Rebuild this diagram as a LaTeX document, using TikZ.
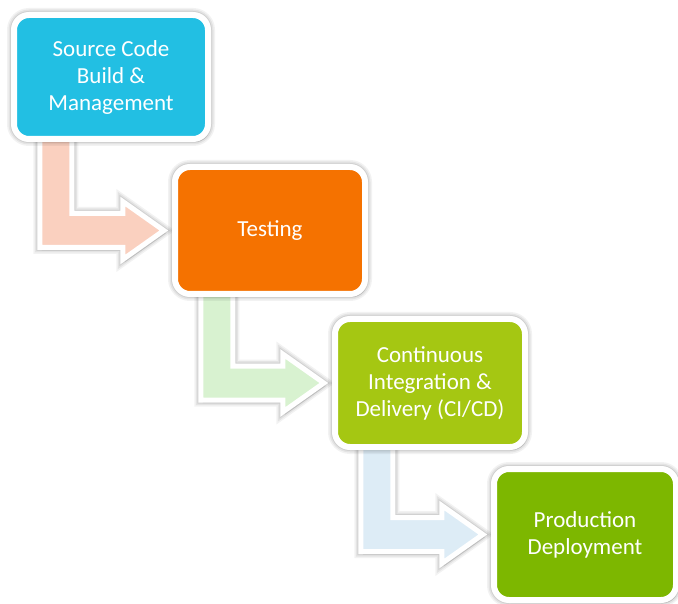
\documentclass[tikz,border=0pt]{standalone}
\usepackage{fontspec}
\setmainfont{Carlito}
\usetikzlibrary{calc,shadows}

\definecolor{srcblue}{HTML}{22BFE3}
\definecolor{testorange}{HTML}{F57200}
\definecolor{cilime}{HTML}{A5C712}
\definecolor{prodgreen}{HTML}{7DB700}
\definecolor{arrowsalmon}{HTML}{FAD0BF}
\definecolor{arrowmint}{HTML}{D8F2D0}
\definecolor{arrowsky}{HTML}{DDECF6}

\tikzset{
  % soft grey glow behind a white rim
  halo/.style={
    preaction={draw=black, draw opacity=0.05, line width=#1+8pt},
    preaction={draw=black, draw opacity=0.06, line width=#1+5pt},
    preaction={draw=black, draw opacity=0.08, line width=#1+2pt}
  },
  stagebox/.style={
    drop shadow={shadow xshift=2pt, shadow yshift=-3pt, opacity=0.22, fill=black!60},
    halo=6pt,
    draw=white, line width=6pt, rounded corners=15pt,
    text=white, align=center, inner sep=0pt,
    font=\fontsize{23}{27}\selectfont
  },
  arrowbody/.style={
    drop shadow={shadow xshift=2pt, shadow yshift=-3pt, opacity=0.15, fill=black!60},
    halo=5pt,
    draw=white, line width=5pt, line join=miter
  }
}

% L-shaped block arrow leaving the bottom of #1 and pointing at the west side of #2
\newcommand\stagearrow[3]{%
  \path[arrowbody, fill=#3]
    let \p1=(#1.west), \p2=(#2.west), \p3=(#1.south) in
    (\x1+26pt, \y3+8pt) -- (\x1+58pt, \y3+8pt) -- (\x1+58pt, \y2+17pt)
    -- (\x2-52pt, \y2+17pt) -- (\x2-52pt, \y2+29pt) -- (\x2-11pt, \y2)
    -- (\x2-52pt, \y2-29pt) -- (\x2-52pt, \y2-17pt) -- (\x1+26pt, \y2-17pt)
    -- cycle;}

\begin{document}
\begin{tikzpicture}[x=1pt,y=1pt]
  \fill[white] (0,0) rectangle (678,-604);
  \useasboundingbox (0,0) rectangle (678,-604);

  % stage centres
  \coordinate (c1) at (111,-77);
  \coordinate (c2) at (270,-230.5);
  \coordinate (c3) at (430,-383);
  \coordinate (c4) at (585,-534.5);

  % placeholders of the stage size, so the arrows can be laid under the boxes
  \path (c1) node[minimum width=194pt, minimum height=124pt, inner sep=0pt] (p1) {};
  \path (c2) node[minimum width=190pt, minimum height=127pt, inner sep=0pt] (p2) {};
  \path (c3) node[minimum width=190pt, minimum height=128pt, inner sep=0pt] (p3) {};
  \path (c4) node[minimum width=182pt, minimum height=131pt, inner sep=0pt] (p4) {};

  \stagearrow{p1}{p2}{arrowsalmon}
  \stagearrow{p2}{p3}{arrowmint}
  \stagearrow{p3}{p4}{arrowsky}

  \node[stagebox, fill=srcblue, minimum width=194pt, minimum height=124pt] (b1) at (c1)
    {Source Code\\Build \&\\Management};
  \node[stagebox, fill=testorange, minimum width=190pt, minimum height=127pt] (b2) at (c2)
    {Testing};
  \node[stagebox, fill=cilime, minimum width=190pt, minimum height=128pt] (b3) at (c3)
    {Continuous\\Integration \&\\Delivery (CI/CD)};
  \node[stagebox, fill=prodgreen, minimum width=182pt, minimum height=131pt] (b4) at (c4)
    {Production\\Deployment};
\end{tikzpicture}
\end{document}
